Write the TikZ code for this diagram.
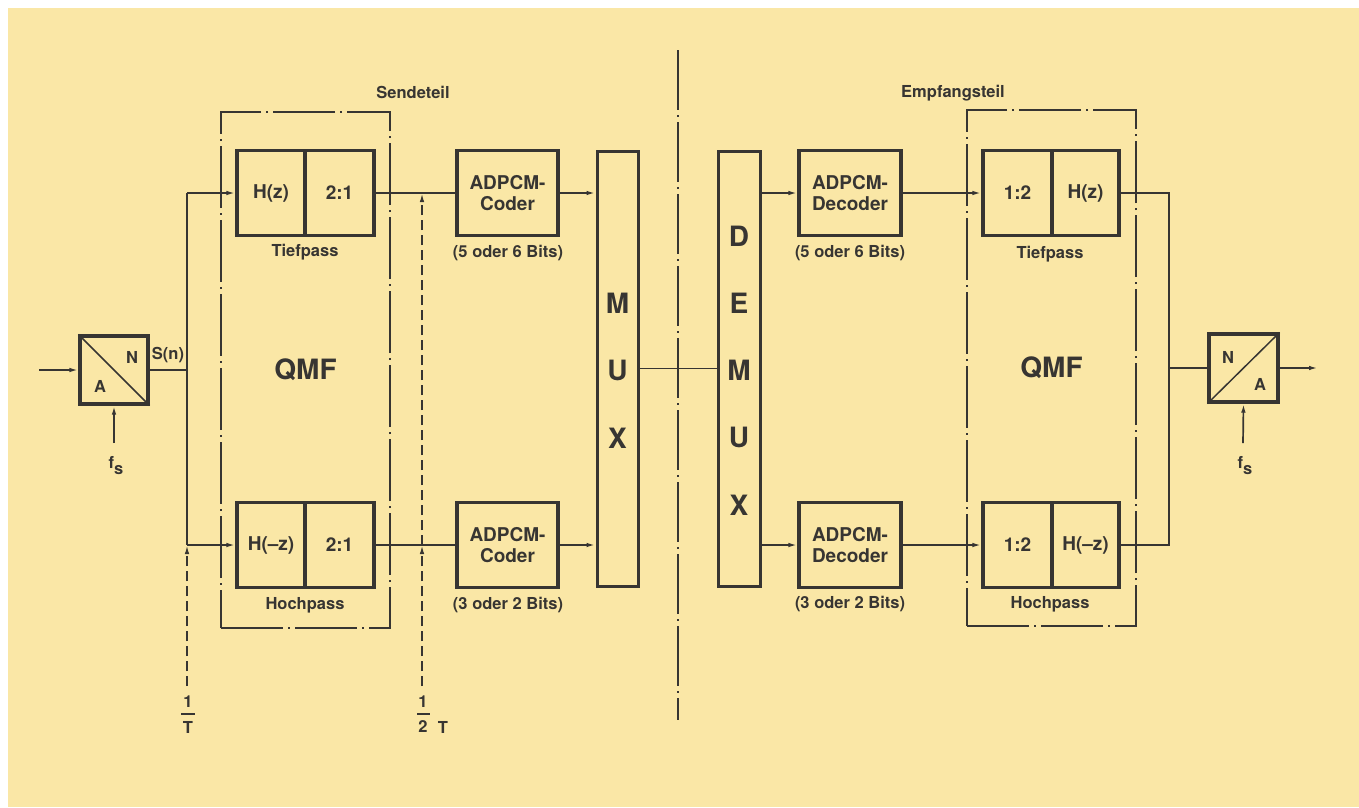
\documentclass[tikz,border=0pt]{standalone}
\usepackage{fontspec}
\setmainfont{TeX Gyre Heros}
\usetikzlibrary{arrows.meta}
\definecolor{paper}{RGB}{250,231,166}
\definecolor{ink}{RGB}{55,53,50}
\begin{document}
\begin{tikzpicture}[x=1pt,y=-1pt,
  every node/.style={text=ink,font=\bfseries},
  wire/.style={draw=ink,line width=1.7pt},
  arr/.style={-{Latex[length=9pt,width=4.5pt]}},
  blk/.style={draw=ink,line width=3.2pt,font=\fontsize{19}{21}\selectfont\bfseries,align=center,inner sep=0pt},
  lbl/.style={font=\fontsize{16.5}{19}\selectfont\bfseries,inner sep=1pt},
  bigtxt/.style={font=\fontsize{28}{30}\selectfont\bfseries,inner sep=0pt},
  qmfline/.style={draw=ink,line width=1.6pt,dash pattern=on 62pt off 5pt on 2pt off 5pt},
  clkline/.style={draw=ink,line width=1.6pt,dash pattern=on 10pt off 5pt}]
\useasboundingbox (0,0) rectangle (1359,807);
\fill[white] (0,0) rectangle (1359,807);
\fill[paper] (8,8) rectangle (1359,807);

% titles
\node[lbl] (send) at (413,92) {Sendeteil};
\node[lbl] (empf) at (953,93) {Empfangsteil};
\draw[draw=ink,line width=1.5pt,dash pattern=on 60pt off 5pt on 2pt off 5pt] (678,50) -- (678,720);

% QMF enclosures
\node[qmfline,minimum width=169pt,minimum height=516pt,font=\fontsize{28}{30}\selectfont\bfseries] (qmfL) at (305.5,370) {QMF};
\node[qmfline,minimum width=169pt,minimum height=516pt,font=\fontsize{28}{30}\selectfont\bfseries] (qmfR) at (1051.5,368) {QMF};

% A/D converter
\node[blk,minimum width=68pt,minimum height=68pt] (ad) at (114,370) {};
\draw[wire,line width=1.5pt] (ad.north west) -- (ad.south east);
\node[lbl] (adN) at (132,357) {N};
\node[lbl] (adA) at (100,386) {A};
\coordinate (adin) at (39,370);
\draw[wire,arr] (adin) -- (ad.west);
\coordinate (fsL) at (114,443);
\draw[wire,arr] (fsL) -- (ad.south);
\node[lbl] (fsLt) at (116,466) {f\raisebox{-6pt}{s}};
\node[lbl] (sn) at (168,355) {S(n)};

% splitting
\coordinate (jt) at (187,193);
\coordinate (jb) at (187,545);
\draw[wire] (ad.east) -- (ad.east -| jt);
\draw[wire] (jt) -- (jb);

% send filters
\node[blk,minimum width=68pt,minimum height=85pt] (hz1) at (271,193) {H(z)};
\node[blk,minimum width=69pt,minimum height=85pt] (hz2) at (339.5,193) {2:1};
\node[blk,minimum width=68pt,minimum height=85pt] (hmz1) at (271,545) {H(--z)};
\node[blk,minimum width=69pt,minimum height=85pt] (hmz2) at (339.5,545) {2:1};
\node[lbl] (tpL) at (305,252) {Tiefpass};
\node[lbl] (hpL) at (305,605) {Hochpass};
\draw[wire,arr] (jt) -- (hz1.west);
\draw[wire,arr] (jb) -- (hmz1.west);

% clocks
\coordinate (c1b) at (187,686);
\draw[clkline,arr] (c1b) -- (jb);
\node[lbl] (c1n) at (188,702) {1};
\draw[wire,line width=1.5pt] (181,714) -- (195,714);
\node[lbl] (c1d) at (188,727) {T};

\coordinate (c2b) at (422,686);
\coordinate (c2m) at (422,545);
\coordinate (c2t) at (422,193);
\draw[clkline,arr] (c2b) -- (c2m);
\draw[clkline,arr] (c2m) -- (c2t);
\node[lbl] (c2n) at (423,702) {1};
\draw[wire,line width=1.5pt] (417,714) -- (430,714);
\node[lbl] (c2d) at (423,727) {2};
\node[lbl] (c2T) at (443,727) {T};

% coders
\node[blk,minimum width=101pt,minimum height=85pt] (cod1) at (507.5,193) {ADPCM-\\Coder};
\node[blk,minimum width=101pt,minimum height=85pt] (cod2) at (507.5,545) {ADPCM-\\Coder};
\node[lbl] (b1) at (508,253) {(5 oder 6 Bits)};
\node[lbl] (b2) at (508,605) {(3 oder 2 Bits)};
\draw[wire] (hz2.east) -- (cod1.west);
\draw[wire] (hmz2.east) -- (cod2.west);

% MUX
\node[blk,line width=3pt,minimum width=41pt,minimum height=435pt] (mux) at (617.5,368.5) {};
\node[bigtxt] (mx1) at (617.5,303) {M};
\node[bigtxt] (mx2) at (617.5,370) {U};
\node[bigtxt] (mx3) at (617.5,438) {X};
\draw[wire,arr] (cod1.east) -- (cod1.east -| mux.west);
\draw[wire,arr] (cod2.east) -- (cod2.east -| mux.west);

% DEMUX
\node[blk,line width=3pt,minimum width=42pt,minimum height=435pt] (demux) at (739,368.5) {};
\node[bigtxt] (dm1) at (739,236) {D};
\node[bigtxt] (dm2) at (739,303) {E};
\node[bigtxt] (dm3) at (739,370) {M};
\node[bigtxt] (dm4) at (739,437) {U};
\node[bigtxt] (dm5) at (739,505) {X};
\draw[wire] (mux.east) -- (demux.west);

% decoders
\node[blk,minimum width=102pt,minimum height=85pt] (dec1) at (850,193) {ADPCM-\\Decoder};
\node[blk,minimum width=102pt,minimum height=85pt] (dec2) at (850,545) {ADPCM-\\Decoder};
\node[lbl] (b3) at (850,253) {(5 oder 6 Bits)};
\node[lbl] (b4) at (850,604) {(3 oder 2 Bits)};
\draw[wire,arr] (demux.east |- dec1.west) -- (dec1.west);
\draw[wire,arr] (demux.east |- dec2.west) -- (dec2.west);

% receive filters
\node[blk,minimum width=69pt,minimum height=85pt] (ih1) at (1017.5,193) {1:2};
\node[blk,minimum width=67pt,minimum height=85pt] (ih2) at (1085.5,193) {H(z)};
\node[blk,minimum width=69pt,minimum height=85pt] (ihm1) at (1017.5,545) {1:2};
\node[blk,minimum width=67pt,minimum height=85pt] (ihm2) at (1085.5,545) {H(--z)};
\node[lbl] (tpR) at (1050,254) {Tiefpass};
\node[lbl] (hpR) at (1050,604) {Hochpass};
\draw[wire,arr] (dec1.east) -- (ih1.west);
\draw[wire,arr] (dec2.east) -- (ihm1.west);

% combiner and D/A
\coordinate (rt) at (1169,193);
\coordinate (rb) at (1169,545);
\draw[wire] (ih2.east) -- (rt) -- (rb) -- (ihm2.east);
\node[blk,minimum width=69pt,minimum height=68pt] (da) at (1243.5,368) {};
\draw[wire,line width=1.5pt] (da.south west) -- (da.north east);
\node[lbl] (daN) at (1228,357) {N};
\node[lbl] (daA) at (1260,384) {A};
\draw[wire] (da.west -| rt) -- (da.west);
\coordinate (daout) at (1318,368);
\draw[wire,arr] (da.east) -- (daout);
\coordinate (fsR) at (1243,443);
\draw[wire,arr] (fsR) -- (da.south);
\node[lbl] (fsRt) at (1245,466) {f\raisebox{-6pt}{s}};
\end{tikzpicture}
\end{document}
